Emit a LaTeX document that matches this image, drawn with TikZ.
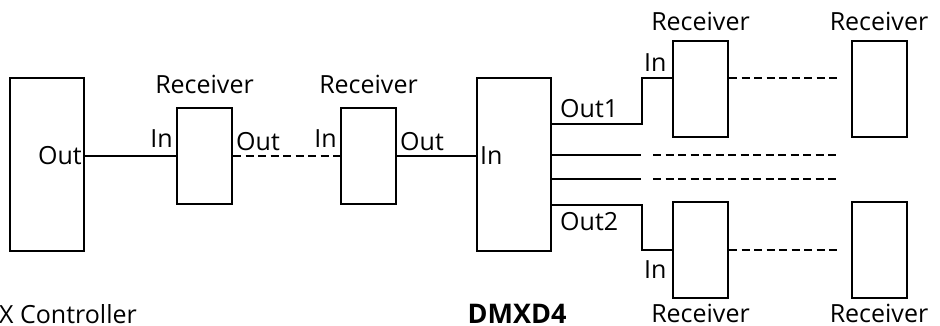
\documentclass[tikz,border=0pt]{standalone}
\usepackage{fontspec}
\setmainfont{Open Sans}
\begin{document}
\begin{tikzpicture}[x=1pt,y=-1pt,
  box/.style={draw,line width=2pt,minimum width=55pt,minimum height=96pt,inner sep=0pt},
  big/.style={draw,line width=2pt,minimum width=74pt,minimum height=173pt,inner sep=0pt},
  wire/.style={line width=2pt},
  dashwire/.style={line width=2pt,dash pattern=on 8pt off 4.5pt},
  lbl/.style={font=\fontsize{25}{30}\selectfont,inner sep=0pt}]
\useasboundingbox (0,0) rectangle (940,326);
% devices
\node[big] (ctrl) at (47,164.5) {};
\node[box] (r1) at (204.5,156) {};
\node[box] (r2) at (368.5,156) {};
\node[big] (dmx) at (514,164.5) {};
\node[box] (ra) at (700.5,89) {};
\node[box] (rb) at (879,89) {};
\node[box] (rc) at (700.5,249.5) {};
\node[box] (rd) at (879,249.5) {};
% port coordinates
\coordinate (o1) at (551,124);
\coordinate (ka) at (642,78);
\coordinate (ea) at (840,78);
\coordinate (o2) at (551,205);
\coordinate (kc) at (642,250);
\coordinate (ec) at (840,250);
\coordinate (m1) at (551,155);
\coordinate (m1e) at (641,155);
\coordinate (m1d) at (653,155);
\coordinate (m1f) at (840,155);
\coordinate (m2) at (551,179);
\coordinate (m2e) at (641,179);
\coordinate (m2d) at (653,179);
\coordinate (m2f) at (840,179);
% connectors
\draw[wire] (ctrl.east |- r1.west) -- (r1.west);
\draw[dashwire] (r1.east) -- (r2.west);
\draw[wire] (r2.east) -- (dmx.west |- r2.east);
\draw[wire] (o1) -| (ka) -- (ka -| ra.west);
\draw[dashwire] (ka -| ra.east) -- (ea);
\draw[wire] (o2) -| (kc) -- (kc -| rc.west);
\draw[dashwire] (kc -| rc.east) -- (ec);
\draw[wire] (m1) -- (m1e);
\draw[dashwire] (m1d) -- (m1f);
\draw[wire] (m2) -- (m2e);
\draw[dashwire] (m2d) -- (m2f);
% labels
\node[lbl,anchor=east,xshift=-3pt] (lco) at (ctrl.east |- r1.west) {Out};
\node[lbl,anchor=base east,xshift=-3pt,yshift=8pt] (l1i) at (r1.west) {In};
\node[lbl,anchor=base west,xshift=3pt,yshift=6pt] (l1o) at (r1.east) {Out};
\node[lbl,anchor=base,yshift=13pt] (l1r) at (r1.north) {Receiver};
\node[lbl,anchor=base east,xshift=-3pt,yshift=8pt] (l2i) at (r2.west) {In};
\node[lbl,anchor=base west,xshift=3pt,yshift=6pt] (l2o) at (r2.east) {Out};
\node[lbl,anchor=base,yshift=13pt] (l2r) at (r2.north) {Receiver};
\node[lbl,anchor=west,xshift=4pt] (ldi) at (dmx.west |- r2.east) {In};
\node[lbl,anchor=base west,xshift=9pt,yshift=6pt] (lo1) at (o1) {Out1};
\node[lbl,anchor=north west,xshift=9pt,yshift=-7pt] (lo2) at (o2) {Out2};
\node[lbl,anchor=base west,xshift=2pt,yshift=6pt] (lai) at (ka) {In};
\node[lbl,anchor=north west,xshift=2pt,yshift=-10pt] (lci) at (kc) {In};
\node[lbl,anchor=base,yshift=9pt] (lar) at (ra.north) {Receiver};
\node[lbl,anchor=base,yshift=9pt] (lbr) at (rb.north) {Receiver};
\node[lbl,anchor=north,yshift=-5pt] (lcr) at (rc.south) {Receiver};
\node[lbl,anchor=north,yshift=-5pt] (ldr) at (rd.south) {Receiver};
\node[lbl,anchor=base west,xshift=-10pt,yshift=-71pt] (lctrl) at (ctrl.south west) {X Controller};
\node[lbl,font=\fontsize{27}{30}\selectfont\bfseries,anchor=base,xshift=3pt,yshift=-71pt] (ldmx) at (dmx.south) {DMXD4};
\end{tikzpicture}
\end{document}
